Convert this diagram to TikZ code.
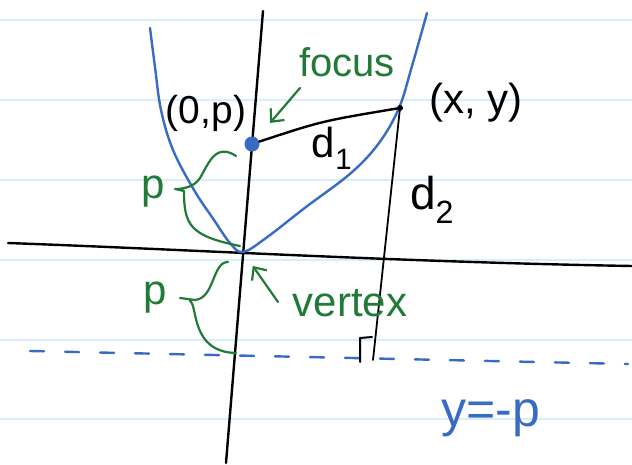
\documentclass[tikz,border=0pt]{standalone}
\usepackage{fontspec}
\setmainfont{Liberation Sans}
\usetikzlibrary{arrows.meta, positioning}
\definecolor{inkblue}{HTML}{3A6BC4}
\definecolor{inkgreen}{HTML}{217A36}
\definecolor{rulecolor}{HTML}{D8EEFA}

\begin{document}
\begin{tikzpicture}[x=1pt, y=-1pt,
    ink/.style={line width=2.4pt, line cap=round, line join=round},
    rule/.style={rulecolor, line width=1.6pt},
    dot/.style={circle, fill=#1, inner sep=0pt},
    label/.style={inner sep=0pt, font=\fontsize{36}{42}\selectfont, text=#1},
    greenink/.style={ink, color=inkgreen, line width=2.2pt},
    greenarrow/.style={greenink, -{Straight Barb[length=10pt, width=18pt, line width=2.2pt]}}
]
\useasboundingbox[fill=white] (0,0) rectangle (632,465);

% Notebook rules
\foreach \y in {20,100,180,260,340,419}
    \draw[rule] (0,\y) -- (632,\y);

% Axes
\coordinate (xl) at (8,243);
\coordinate (xr) at (632,266);
\coordinate (yt) at (263,11);
\coordinate (yb) at (226,463);
\draw[ink] (xl) .. controls (200,250) and (400,262) .. (xr);
\draw[ink] (yt) -- (yb);

% Parabola and directrix
\draw[ink, inkblue] plot[smooth, tension=0.6] coordinates {
    (150,28) (155,67) (161,110) (173,150) (194,190) (214,220) (230,243)
    (243,252) (266,238) (306,207) (351,173) (379,143) (399,108) (412,66) (427,13)};
\coordinate (dirl) at (30,351);
\coordinate (dirr) at (628,364);
\draw[ink, inkblue, dash pattern=on 14pt off 21pt] (dirl) -- (dirr);

% Points
\node[dot=inkblue, minimum size=15pt] (focus) at (252,144) {};
\node[dot=black, minimum size=6pt] (pt) at (400,108) {};
\coordinate (vertex) at (243,252);
\coordinate (foot) at (373,360);

% Distances
\draw[ink] (focus) .. controls (322,121) .. (pt);
\draw[ink, line width=1.8pt] (pt) -- (foot);
\draw[ink, line width=2pt] (foot) ++(-13,2) -- ++(0,-24) -- ++(12,-1);

% Black labels
\node[label=black, font=\fontsize{39}{45}\selectfont] (focuslbl) at (206,113) {(0,p)};
\node[label=black, font=\fontsize{42}{48}\selectfont] (ptlbl) at (476,103) {(x, y)};
\node[label=black, font=\fontsize{42}{48}\selectfont] (done) at (332,148) {d\textsubscript{1}};
\node[label=black, font=\fontsize{46}{52}\selectfont] (dtwo) at (432,200) {d\textsubscript{2}};

% Green labels and arrows
\node[label=inkgreen, font=\fontsize{40}{46}\selectfont] (focusname) at (347,62) {focus};
\node[label=inkgreen, font=\fontsize{42}{48}\selectfont] (vertexname) at (350,303) {vertex};
\node[label=inkgreen, font=\fontsize{42}{48}\selectfont] (pup) at (153,192) {p};
\node[label=inkgreen, font=\fontsize{42}{48}\selectfont] (pdown) at (155,298) {p};
\coordinate (focustail) at (300,88);
\coordinate (vertextail) at (278,302);
\draw[greenarrow, shorten >=20pt] (focustail) -- (focus);
\draw[greenarrow, shorten >=17pt] (vertextail) -- (vertex);

% Braces
\draw[greenink] (236,156) .. controls (215,142) and (208,165) .. (200,178)
    .. controls (195,186) and (185,189) .. (175,189) -- (184,191)
    .. controls (184,225) and (190,236) .. (240,246);
\draw[greenink] (228,262) .. controls (212,262) and (215,298) .. (195,300) -- (180,298)
    (190,301) .. controls (198,305) and (190,352) .. (236,353);

% Directrix label
\node[label=inkblue, font=\fontsize{50}{56}\selectfont] (dirlbl) at (491,418) {y=-p};

\end{tikzpicture}
\end{document}
